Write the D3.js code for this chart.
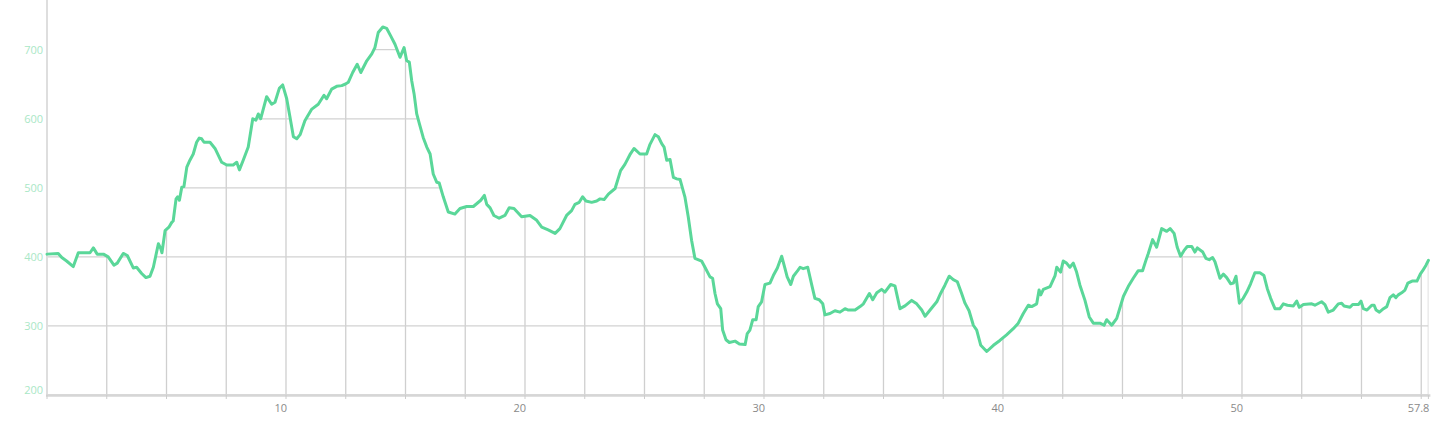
<!DOCTYPE html>
<html>
<head>
<meta charset="utf-8">
<script src="https://cdnjs.cloudflare.com/ajax/libs/d3/7.8.5/d3.min.js"></script>
<style>
    body { margin: 0; background: #fff; }
    svg text { font-family: "Open Sans", "Liberation Sans", sans-serif; font-size: 11px; }
</style>
</head>
<body>
<div id="my_dataviz"></div>
<script>
// distance along the route (km)
var distance = [
    0, 0.47, 0.62, 0.82, 1.10, 1.31, 1.80, 1.94, 2.10, 2.36, 2.56, 2.80, 2.94, 3.19, 3.36, 3.61, 3.75, 3.96, 4.14, 4.31,
    4.45, 4.66, 4.76, 4.81, 4.94, 5.10, 5.22, 5.28, 5.40, 5.47, 5.54, 5.64, 5.73, 5.85, 5.98, 6.12, 6.26, 6.37, 6.47, 6.57,
    6.82, 7.03, 7.17, 7.31, 7.52, 7.79, 7.94, 8.05, 8.21, 8.42, 8.61, 8.74, 8.84, 8.94, 9.19, 9.40, 9.54, 9.72, 9.86, 10.03,
    10.17, 10.31, 10.45, 10.59, 10.79, 11.08, 11.35, 11.59, 11.70, 11.91, 12.12, 12.33, 12.47, 12.61, 12.79, 12.98, 13.13, 13.38, 13.59, 13.72,
    13.86, 14.05, 14.21, 14.38, 14.56, 14.77, 14.94, 15.05, 15.16, 15.26, 15.36, 15.47, 15.58, 15.74, 15.89, 16.03, 16.16, 16.31, 16.41, 16.58,
    16.79, 17.07, 17.28, 17.56, 17.84, 18.15, 18.30, 18.40, 18.54, 18.70, 18.92, 19.16, 19.34, 19.54, 19.86, 20.21, 20.49, 20.70, 20.97, 21.26,
    21.46, 21.74, 21.95, 22.09, 22.27, 22.41, 22.55, 22.79, 23.00, 23.14, 23.31, 23.49, 23.77, 24.00, 24.18, 24.39, 24.56, 24.81, 25.09, 25.23,
    25.44, 25.58, 25.72, 25.82, 25.93, 26.07, 26.21, 26.35, 26.49, 26.69, 26.83, 26.97, 27.11, 27.39, 27.53, 27.74, 27.85, 27.95, 28.05, 28.19,
    28.27, 28.41, 28.55, 28.79, 28.97, 29.21, 29.30, 29.41, 29.53, 29.67, 29.76, 29.90, 30.04, 30.25, 30.39, 30.56, 30.74, 30.88, 30.97, 31.12,
    31.23, 31.41, 31.51, 31.64, 31.83, 32.00, 32.13, 32.31, 32.46, 32.55, 32.76, 32.97, 33.18, 33.39, 33.53, 33.81, 34.02, 34.16, 34.41, 34.55,
    34.72, 34.92, 35.06, 35.30, 35.48, 35.69, 35.90, 36.18, 36.39, 36.60, 36.74, 36.95, 37.23, 37.39, 37.57, 37.75, 37.92, 38.09, 38.27, 38.41,
    38.58, 38.76, 38.90, 39.07, 39.32, 39.60, 39.87, 40.15, 40.43, 40.64, 40.85, 41.06, 41.20, 41.41, 41.51, 41.58, 41.69, 41.97, 42.18, 42.25,
    42.41, 42.52, 42.66, 42.80, 42.94, 43.08, 43.22, 43.43, 43.61, 43.78, 44.06, 44.23, 44.34, 44.55, 44.76, 45.04, 45.24, 45.45, 45.66, 45.84,
    45.98, 46.08, 46.26, 46.43, 46.64, 46.85, 46.99, 47.16, 47.29, 47.43, 47.57, 47.71, 47.90, 48.03, 48.13, 48.36, 48.49, 48.63, 48.77, 48.87,
    49.08, 49.22, 49.36, 49.53, 49.64, 49.75, 49.89, 50.05, 50.20, 50.36, 50.54, 50.75, 50.92, 51.06, 51.20, 51.38, 51.59, 51.73, 51.90, 52.15,
    52.29, 52.40, 52.57, 52.92, 53.05, 53.33, 53.47, 53.61, 53.82, 54.03, 54.17, 54.27, 54.52, 54.63, 54.87, 54.98, 55.08, 55.23, 55.43, 55.53,
    55.61, 55.75, 55.92, 56.06, 56.19, 56.33, 56.44, 56.54, 56.68, 56.82, 56.94, 57.12, 57.32, 57.46, 57.56, 57.70, 57.80
];

// elevation (m)
var elevation = [
    404, 405, 399, 394, 386, 406, 406, 413, 404, 404, 400, 388, 391, 405, 402, 384, 385, 376, 370, 372,
    385, 419, 412, 406, 438, 443, 450, 452, 484, 487, 482, 501, 502, 530, 540, 549, 566, 572, 571, 566,
    566, 557, 547, 537, 533, 533, 537, 526, 540, 559, 600, 598, 607, 600, 632, 621, 624, 644, 649, 629,
    602, 574, 571, 577, 597, 614, 621, 634, 629, 643, 647, 648, 650, 653, 667, 679, 667, 684, 694, 703,
    725, 733, 731, 720, 708, 689, 703, 684, 682, 655, 636, 607, 593, 573, 559, 549, 520, 508, 507, 487,
    465, 462, 470, 473, 473, 482, 489, 476, 471, 460, 456, 460, 471, 470, 458, 460, 453, 443, 439, 434,
    441, 460, 467, 476, 479, 487, 481, 479, 481, 484, 483, 491, 499, 525, 534, 548, 557, 549, 549, 563,
    577, 574, 564, 559, 540, 541, 515, 513, 512, 487, 458, 424, 398, 394, 385, 371, 369, 347, 332, 325,
    294, 280, 276, 278, 274, 273, 289, 294, 309, 309, 328, 335, 360, 362, 373, 384, 401, 383, 371, 360,
    372, 380, 385, 383, 385, 359, 340, 338, 332, 316, 318, 322, 320, 325, 323, 323, 328, 332, 347, 338,
    348, 353, 349, 360, 358, 325, 329, 337, 332, 323, 314, 323, 335, 347, 359, 372, 367, 364, 347, 333,
    322, 301, 294, 272, 263, 272, 279, 287, 296, 304, 318, 330, 328, 332, 352, 345, 353, 357, 373, 385,
    378, 394, 391, 385, 391, 378, 359, 337, 313, 304, 304, 301, 309, 301, 311, 343, 357, 369, 380, 380,
    395, 405, 425, 414, 441, 437, 441, 434, 414, 401, 409, 415, 415, 407, 413, 407, 398, 396, 399, 393,
    369, 375, 370, 361, 362, 372, 333, 340, 349, 361, 377, 377, 373, 354, 340, 325, 325, 332, 330, 329,
    336, 327, 331, 332, 330, 335, 331, 320, 323, 332, 333, 329, 327, 331, 331, 336, 325, 323, 330, 330,
    323, 320, 325, 328, 341, 345, 341, 345, 348, 352, 362, 365, 365, 375, 380, 388, 395
];

var yTicks = [200, 300, 400, 500, 600, 700];
var xLabels = [10, 20, 30, 40, 50, 57.8];

var data = distance.map((d, i) => ({ km: d, ele: elevation[i] }));

// dimensions (no "top" here: window.top is read only)
var width = 1434,
    height = 434,
    plotLeft = 47,
    plotRight = 1428.4,
    plotBottom = 395,
    plotTop = 0;

var svg = d3.select("#my_dataviz")
    .append("svg")
    .attr("width", width)
    .attr("height", height);

var x = d3.scaleLinear()
    .domain([0, 57.8])
    .range([plotLeft, plotRight]);

var y = d3.scaleLinear()
    .domain([200, 772])
    .range([plotBottom, plotTop]);

// grid only shows under the profile, so clip it with the area
var area = d3.area()
    .x(d => x(d.km))
    .y0(plotBottom)
    .y1(d => y(d.ele));

svg.append("clipPath")
    .attr("id", "under")
    .append("path")
    .datum(data)
    .attr("d", area);

var grid = svg.append("g").attr("clip-path", "url(#under)");

var xGrid = d3.range(0, 57.8, 2.5).concat([57.8]);

grid.selectAll("line.v")
    .data(xGrid)
    .enter()
    .append("line")
    .attr("x1", d => x(d))
    .attr("x2", d => x(d))
    .attr("y1", plotTop)
    .attr("y2", plotBottom)
    .attr("stroke", "#cfcfcf")
    .attr("stroke-width", 1.3);

grid.selectAll("line.h")
    .data(yTicks)
    .enter()
    .append("line")
    .attr("x1", plotLeft)
    .attr("x2", plotRight)
    .attr("y1", d => y(d))
    .attr("y2", d => y(d))
    .attr("stroke", "#d2d2d2")
    .attr("stroke-width", 1.3);

// axes lines
svg.append("line")
    .attr("x1", plotLeft).attr("x2", plotLeft)
    .attr("y1", 0).attr("y2", plotBottom + 1)
    .attr("stroke", "#dedede")
    .attr("stroke-width", 2);

svg.append("line")
    .attr("x1", plotLeft - 1).attr("x2", plotRight + 2)
    .attr("y1", plotBottom + 0.5).attr("y2", plotBottom + 0.5)
    .attr("stroke", "#d6d6d6")
    .attr("stroke-width", 2.5);

// x ticks
svg.selectAll("line.xt")
    .data(xGrid)
    .enter()
    .append("line")
    .attr("x1", d => x(d))
    .attr("x2", d => x(d))
    .attr("y1", plotBottom)
    .attr("y2", plotBottom + 4)
    .attr("stroke", "#cccccc")
    .attr("stroke-width", 1);

svg.selectAll("text.xl")
    .data(xLabels)
    .enter()
    .append("text")
    .attr("x", d => x(d) + 1)
    .attr("y", plotBottom + 17)
    .attr("text-anchor", "end")
    .attr("fill", "#8a8a8a")
    .text(d => d);

// y labels
svg.selectAll("text.yl")
    .data(yTicks)
    .enter()
    .append("text")
    .attr("x", plotLeft - 4)
    .attr("y", d => y(d) + (d === 200 ? -1 : 4))
    .attr("text-anchor", "end")
    .attr("fill", "#a9e7c6")
    .text(d => d);

// the profile
var line = d3.line()
    .x(d => x(d.km))
    .y(d => y(d.ele));

svg.append("path")
    .datum(data)
    .attr("d", line)
    .attr("fill", "none")
    .attr("stroke", "#5ad799")
    .attr("stroke-width", 3)
    .attr("stroke-linejoin", "round")
    .attr("stroke-linecap", "round");
</script>
</body>
</html>
